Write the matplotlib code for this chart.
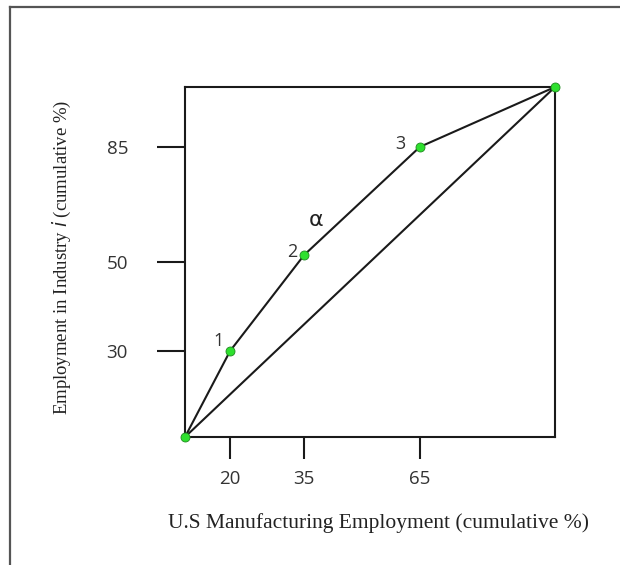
import matplotlib
matplotlib.use("Agg")
import matplotlib.pyplot as plt
from matplotlib.lines import Line2D

# points on the curve, in axis units (0-100 box)
curve_x = [0, 12.2, 32.2, 63.5, 100]
curve_y = [0, 24.6, 52.0, 82.9, 100]
point_names = ["1", "2", "3"]

# tick marks sit at the points; labels are the stated cumulative %
x_tick_pos = [12.2, 32.2, 63.5]
x_tick_labels = ["20", "35", "65"]
y_tick_pos = [24.6, 50.0, 82.9]
y_tick_labels = ["30", "50", "85"]

fig = plt.figure(figsize=(6.2, 5.65), dpi=100)
ax = fig.add_axes([185 / 620, 1 - 437 / 565, 370 / 620, 350 / 565])

# outer frame (only left and top edges show in the picture)
fig.add_artist(Line2D([10 / 620, 10 / 620], [0, 1 - 7 / 565], transform=fig.transFigure,
                      color="#555555", lw=1.6))
fig.add_artist(Line2D([10 / 620, 1], [1 - 7 / 565, 1 - 7 / 565], transform=fig.transFigure,
                      color="#555555", lw=1.6))

# diagonal and the cumulative curve
ax.plot([curve_x[0], curve_x[-1]], [curve_y[0], curve_y[-1]], color="#1a1a1a", lw=1.5, zorder=2)
ax.plot(curve_x, curve_y, color="#1a1a1a", lw=1.5, zorder=2)
ax.scatter(curve_x, curve_y, s=42, color="#2ee02e", edgecolor="#1f8a1f", linewidth=0.6,
           zorder=3, clip_on=False)

# point numbers, left of each inner point (offsets in pixels)
label_offsets = [(-12, 10), (-12, 3), (-20, 3)]
for px, py, name, off in zip(curve_x[1:-1], curve_y[1:-1], point_names, label_offsets):
    ax.annotate(name, (px, py), xytext=off, textcoords="offset pixels",
                ha="center", va="center", fontsize=13, family="Open Sans", color="#333333")

ax.text(35.5, 62.0, "α", fontsize=16, family="DejaVu Sans", ha="center", va="center",
        color="#222222")

ax.set_xlim(0, 100)
ax.set_ylim(0, 100)
ax.set_xticks(x_tick_pos)
ax.set_xticklabels(x_tick_labels)
ax.set_yticks(y_tick_pos)
ax.set_yticklabels(y_tick_labels)
ax.tick_params(axis="x", length=16, width=1.5, pad=8, labelsize=13.5, colors="#1a1a1a",
               labelcolor="#333333")
ax.tick_params(axis="y", length=20, width=1.5, pad=21, labelsize=13.5, colors="#1a1a1a",
               labelcolor="#333333")
for lab in ax.get_xticklabels() + ax.get_yticklabels():
    lab.set_family("Open Sans")
for sp in ax.spines.values():
    sp.set_linewidth(1.5)
    sp.set_color("#1a1a1a")

fig.text(379 / 620, 1 - 523 / 565, "U.S Manufacturing Employment (cumulative %)",
         family="Liberation Serif", fontsize=15.5, ha="center", va="center", color="#222222")
fig.text(62 / 620, 1 - 257 / 565, "Employment in Industry $\\it{i}$ (cumulative %)",
         family="Liberation Serif", fontsize=13.5, ha="center", va="center", rotation=90,
         color="#222222")

fig.savefig("out.png", dpi=100)
